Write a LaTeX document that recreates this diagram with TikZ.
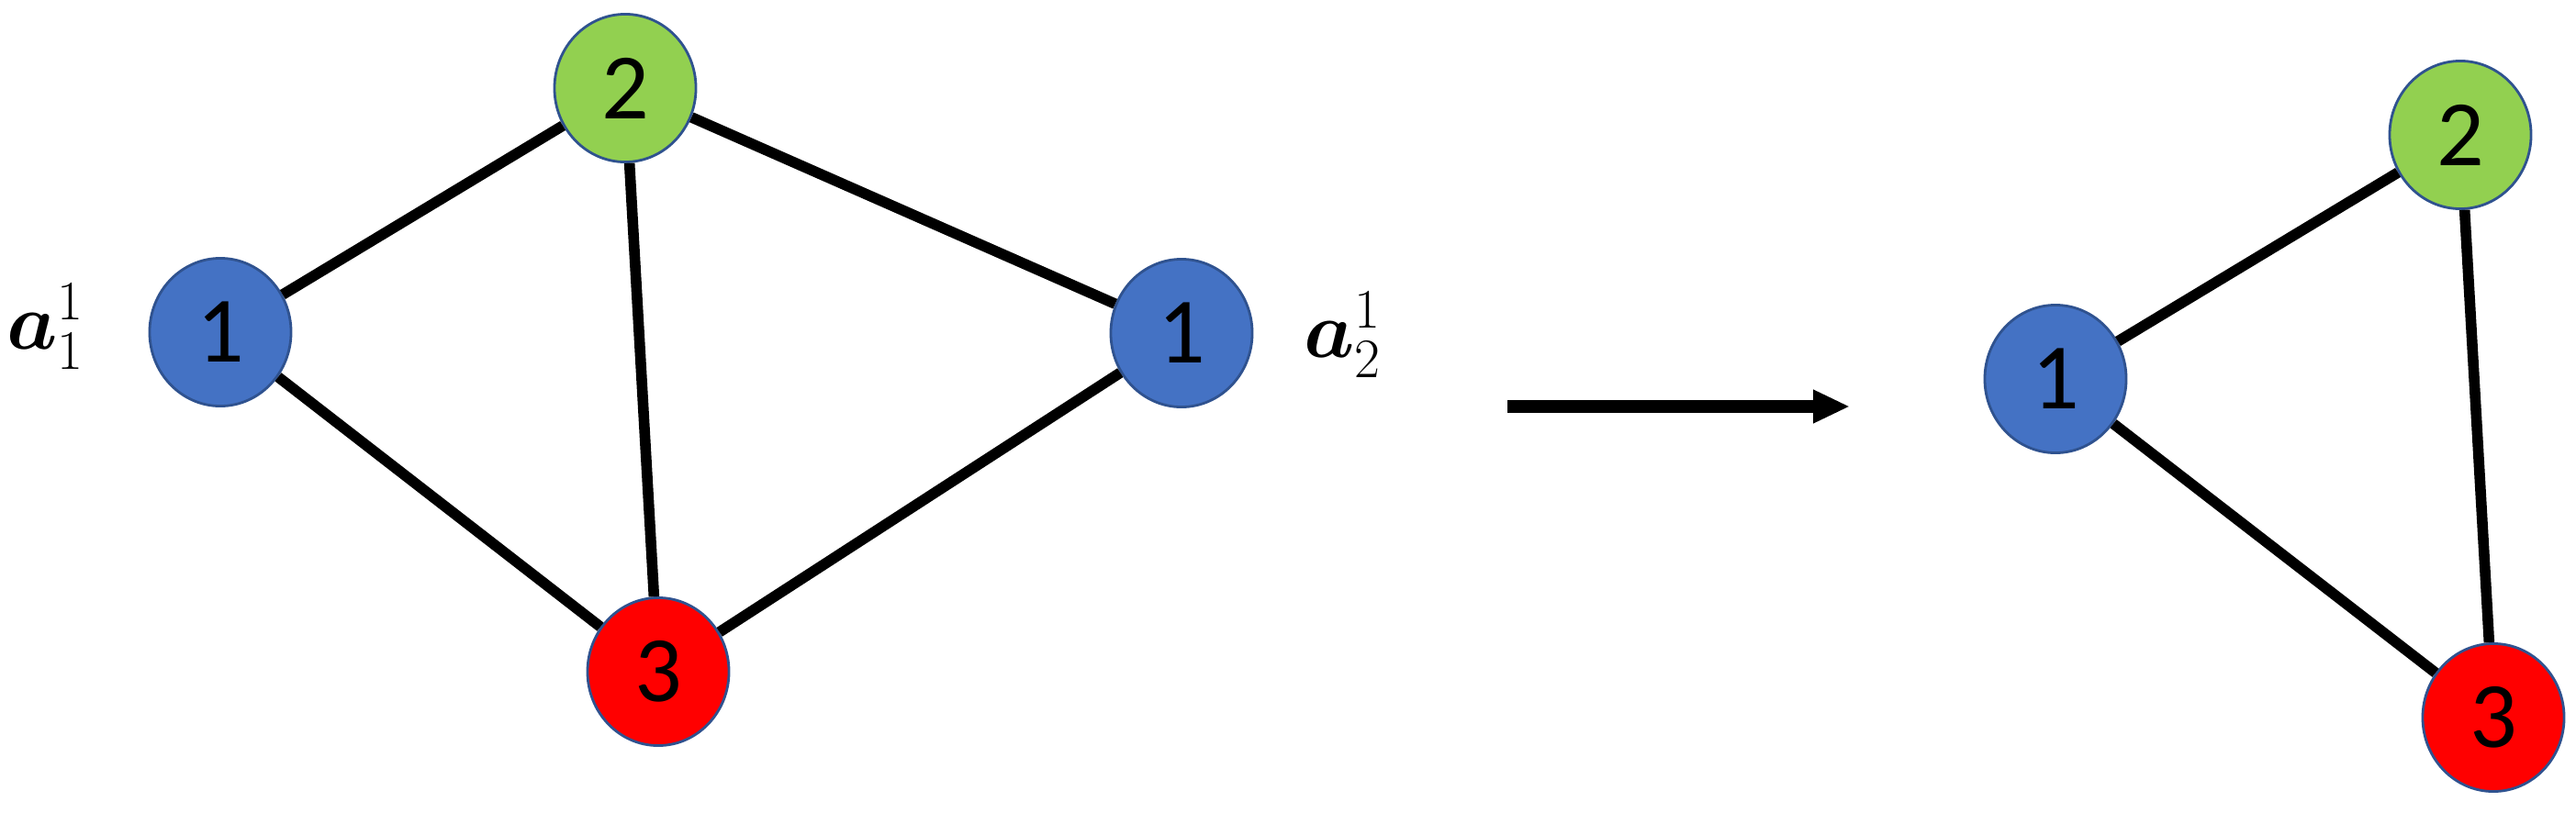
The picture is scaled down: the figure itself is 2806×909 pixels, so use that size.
\documentclass[tikz,border=0pt]{standalone}
\usepackage[no-math]{fontspec}
\usepackage{amsmath}
\usepackage{xcolor}
\usepackage{tikz}
\usetikzlibrary{arrows.meta,shapes.geometric}
\newfontfamily\numfont{Carlito}
\definecolor{vblue}{HTML}{4472C4}
\definecolor{vgreen}{HTML}{92D050}
\definecolor{vred}{HTML}{FF0000}
\definecolor{rimblue}{HTML}{2F528F}

\begin{document}
\begin{tikzpicture}[
    x=0.01cm, y=-0.01cm,
    vtx/.style={ellipse, draw=rimblue, line width=0.8pt, inner sep=0pt, minimum width=1.54cm, minimum height=1.61cm, font=\fontsize{29}{33}\selectfont\numfont},
    bluev/.style={vtx, fill=vblue},
    greenv/.style={vtx, fill=vgreen},
    redv/.style={vtx, fill=vred},
    edge/.style={line width=3.3pt},
    arr/.style={-{Triangle[length=0.4cm,width=0.34cm]}, line width=3.8pt},
    lbl/.style={font=\fontsize{23}{27}\selectfont, inner sep=0pt}
]
\useasboundingbox (0,0) rectangle (2806,909);

% Before: two agents
\node[bluev] (a1) at (240,362) {1};
\node[greenv] (top) at (681,96) {2};
\node[bluev] (a2) at (1287,363) {1};
\node[redv] (bot) at (717,732) {3};

\node[lbl] (lbl1) at (50,356) {$\boldsymbol{a}_1^1$};
\node[lbl] (lbl2) at (1463,365) {$\boldsymbol{a}_2^1$};

\draw[edge] (a1) -- (top);
\draw[edge] (a1) -- (bot);
\draw[edge] (top) -- (bot);
\draw[edge] (top) -- (a2);
\draw[edge] (a2) -- (bot);

% Arrow
\coordinate (arrS) at (1642,443);
\coordinate (arrE) at (2015,443);
\draw[arr] (arrS) -- (arrE);

% After: merged
\node[bluev] (m1) at (2239,413) {1};
\node[greenv] (m2) at (2680,147) {2};
\node[redv] (m3) at (2716,782) {3};

\draw[edge] (m1) -- (m2);
\draw[edge] (m1) -- (m3);
\draw[edge] (m2) -- (m3);

\end{tikzpicture}
\end{document}
